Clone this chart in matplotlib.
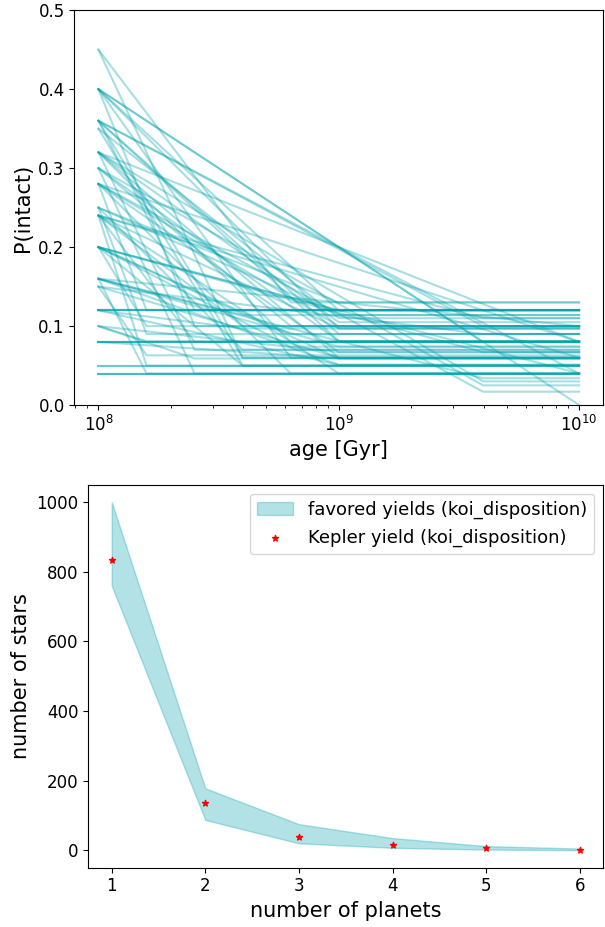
import numpy as np
import matplotlib
matplotlib.use("Agg")
import matplotlib.pyplot as plt

# sculpting laws: start value at 1e8 yr, knee age (log10 yr), value after the knee
p_start = [0.45, 0.45,
           0.40, 0.40, 0.40, 0.40, 0.40, 0.40,
           0.36, 0.36, 0.36, 0.36, 0.36, 0.36,
           0.35, 0.35,
           0.32, 0.32, 0.32, 0.32, 0.32, 0.32,
           0.30, 0.30, 0.30, 0.30,
           0.28, 0.28, 0.28, 0.28, 0.28, 0.28,
           0.25, 0.25, 0.25, 0.25,
           0.24, 0.24, 0.24, 0.24, 0.24, 0.24, 0.24,
           0.20, 0.20, 0.20, 0.20, 0.20, 0.20, 0.20, 0.20,
           0.16, 0.16, 0.16, 0.16, 0.16, 0.16,
           0.15, 0.15, 0.15,
           0.12, 0.12, 0.12, 0.12, 0.12, 0.12,
           0.10, 0.10, 0.10,
           0.08, 0.08, 0.08, 0.08, 0.08,
           0.05, 0.05,
           0.04, 0.04, 0.04]
log_knee = [8.8, 8.6,
            10.0, 9.6, 9.0, 9.0, 8.8, 8.4,
            10.0, 9.6, 9.0, 9.0, 8.6, 8.4,
            9.0, 8.6,
            10.0, 9.6, 9.0, 9.0, 8.8, 8.4,
            9.6, 9.0, 8.8, 8.4,
            10.0, 9.6, 9.0, 9.0, 8.8, 8.2,
            9.0, 9.0, 8.6, 8.2,
            10.0, 9.6, 9.0, 9.0, 8.6, 8.4, 8.2,
            10.0, 9.6, 9.0, 9.0, 8.8, 8.8, 8.6, 8.2,
            10.0, 9.6, 9.0, 9.0, 8.6, 8.2,
            9.6, 9.0, 8.2,
            8.0, 8.0, 8.0, 8.0, 9.0, 8.6,
            9.0, 8.4, 8.2,
            8.0, 8.0, 8.0, 8.0, 9.0,
            8.0, 8.0,
            8.0, 8.0, 8.0]
p_end = [0.13, 0.06,
         0.00, 0.08, 0.12, 0.097, 0.06, 0.10,
         0.04, 0.10, 0.09, 0.081, 0.06, 0.12,
         0.11, 0.05,
         0.08, 0.03, 0.06, 0.105, 0.08, 0.07,
         0.025, 0.081, 0.10, 0.04,
         0.08, 0.017, 0.10, 0.067, 0.04, 0.12,
         0.13, 0.114, 0.07, 0.09,
         0.06, 0.11, 0.04, 0.097, 0.10, 0.08, 0.05,
         0.04, 0.067, 0.12, 0.059, 0.09, 0.074, 0.05, 0.10,
         0.10, 0.034, 0.074, 0.051, 0.114, 0.04,
         0.09, 0.06, 0.063,
         0.12, 0.12, 0.12, 0.12, 0.051, 0.097,
         0.067, 0.059, 0.081,
         0.08, 0.08, 0.08, 0.08, 0.059,
         0.05, 0.05,
         0.04, 0.04, 0.04]

# yields vs number of planets
n_planets = [1, 2, 3, 4, 5, 6]
yield_lo = [760, 87, 20, 7, 2, 0]
yield_hi = [1000, 178, 75, 35, 12, 5]
kepler_yield = [833, 135, 39, 14, 6, 1]

fig = plt.figure(figsize=(6.05, 9.27), dpi=100)
ax1 = fig.add_axes([0.123, 0.563, 0.874, 0.426])
ax2 = fig.add_axes([0.146, 0.064, 0.851, 0.413])

for b, lk, e in zip(p_start, log_knee, p_end):
    ages = [1e8, 10**lk, 1e10]
    ax1.plot(ages, [b, e, e], color='#00a2ac', alpha=0.35, lw=1.5)
ax1.set_xscale('log')
ax1.set_ylim(0, 0.5)
ax1.set_xlabel('age [Gyr]', fontsize=15)
ax1.set_ylabel('P(intact)', fontsize=15)
ax1.tick_params(labelsize=12)

ax2.fill_between(n_planets, yield_lo, yield_hi, color='#00a2ac', alpha=0.3,
                 label='favored yields (koi_disposition)')
ax2.scatter(n_planets, kepler_yield, color='red', marker='*', s=20,
            label='Kepler yield (koi_disposition)')
ax2.set_xlabel('number of planets', fontsize=15)
ax2.set_ylabel('number of stars', fontsize=15)
ax2.tick_params(labelsize=12)
ax2.legend(fontsize=13)

fig.savefig('out.png')
